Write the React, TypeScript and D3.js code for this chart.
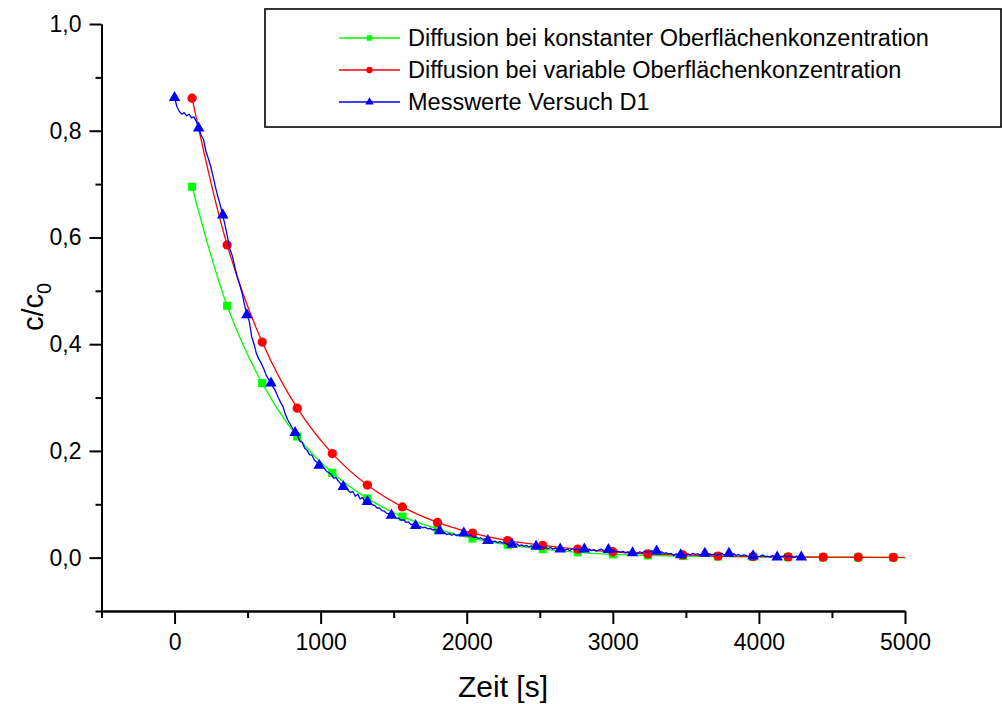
import React, { useEffect, useRef } from "react";
import * as d3 from "d3";

// Model curves: time grid [s] and relative concentration c/c0
const modelTime = [120, 360, 600, 840, 1080, 1320, 1560, 1800, 2040, 2280, 2520, 2760, 3000, 3240, 3480, 3720, 3960, 4200, 4440, 4680, 4920, 5000];
const constSurface = [0.695, 0.472, 0.327, 0.227, 0.159, 0.111, 0.077, 0.054, 0.036, 0.024, 0.016, 0.010, 0.006, 0.004, 0.003, 0.002, 0.0013, 0.0009, 0.0006, 0.0004, 0.0003, 0.0002];
const varSurface = [0.861, 0.586, 0.404, 0.280, 0.195, 0.136, 0.095, 0.066, 0.046, 0.032, 0.023, 0.016, 0.011, 0.007, 0.005, 0.003, 0.002, 0.0014, 0.001, 0.0007, 0.0005, 0.0004];
const MODEL_MARKER_STEP = 240; // markers on the computed curves every 240 s

// Measurement D1, sampled every 16.5 s starting at t = 0
const SAMPLE_STEP = 16.5;
const MEAS_MARKER_EVERY = 10;
const measured = [
  0.862, 0.845, 0.836, 0.831, 0.834, 0.828, 0.831, 0.824, 0.826, 0.818, 0.805,
  0.792, 0.784, 0.762, 0.748, 0.733, 0.714, 0.694, 0.676, 0.660, 0.642,
  0.622, 0.600, 0.578, 0.565, 0.545, 0.526, 0.512, 0.496, 0.474, 0.455,
  0.443, 0.414, 0.400, 0.382, 0.372, 0.364, 0.354, 0.342, 0.334, 0.327,
  0.319, 0.311, 0.300, 0.291, 0.283, 0.268, 0.258, 0.250, 0.242, 0.234,
  0.229, 0.218, 0.216, 0.205, 0.201, 0.193, 0.192, 0.183, 0.179, 0.173,
  0.170, 0.168, 0.162, 0.159, 0.156, 0.149, 0.150, 0.143, 0.138, 0.133,
  0.131, 0.126, 0.122, 0.124, 0.115, 0.119, 0.110, 0.113, 0.104, 0.105,
  0.102, 0.099, 0.098, 0.093, 0.093, 0.088, 0.087, 0.083, 0.082, 0.079,
  0.078, 0.074, 0.074, 0.070, 0.071, 0.066, 0.067, 0.062, 0.063, 0.060,
  0.059, 0.058, 0.056, 0.057, 0.054, 0.055, 0.052, 0.053, 0.051, 0.050,
  0.046, 0.047, 0.043, 0.045, 0.042, 0.044, 0.041, 0.043, 0.044, 0.046,
  0.043, 0.041, 0.042, 0.038, 0.039, 0.036, 0.037, 0.034, 0.035, 0.032,
  0.033, 0.030, 0.031, 0.028, 0.030, 0.027, 0.028, 0.025, 0.027, 0.025,
  0.024, 0.026, 0.022, 0.024, 0.021, 0.023, 0.020, 0.022, 0.019, 0.021,
  0.020, 0.021, 0.018, 0.019, 0.017, 0.019, 0.016, 0.018, 0.015, 0.016,
  0.017, 0.014, 0.016, 0.013, 0.017, 0.015, 0.016, 0.014, 0.017, 0.016,
  0.014, 0.016, 0.013, 0.015, 0.012, 0.014, 0.016, 0.013, 0.014, 0.015,
  0.013, 0.014, 0.011, 0.012, 0.010, 0.012, 0.009, 0.011, 0.010, 0.009,
  0.010, 0.008, 0.011, 0.009, 0.012, 0.010, 0.011, 0.013, 0.010, 0.012,
  0.010, 0.011, 0.008, 0.009, 0.007, 0.008, 0.004, 0.007, 0.006, 0.005,
  0.006, 0.004, 0.007, 0.005, 0.008, 0.006, 0.007, 0.005, 0.007, 0.008,
  0.006, 0.007, 0.005, 0.007, 0.004, 0.006, 0.008, 0.005, 0.007, 0.008,
  0.006, 0.007, 0.004, 0.006, 0.003, 0.005, 0.004, 0.002, 0.004, 0.003,
  0.004, 0.002, 0.003, 0.005, 0.002, 0.003, 0.001, 0.004, 0.002, 0.001,
  0.003, 0.002, 0.004, 0.001, 0.003, 0.002, 0.000, 0.003, 0.002, 0.001,
];

const xMajorTicks = [0, 1000, 2000, 3000, 4000, 5000];
const xMinorTicks = [-500, 500, 1500, 2500, 3500, 4500];
const yMajorTicks = [0, 0.2, 0.4, 0.6, 0.8, 1.0];
const yMinorTicks = [-0.1, 0.1, 0.3, 0.5, 0.7, 0.9];

const legendLabels = [
  "Diffusion bei konstanter Oberflächenkonzentration",
  "Diffusion bei variable Oberflächenkonzentration",
  "Messwerte Versuch D1",
];

const GREEN = "#00ff00";
const RED = "#ff0000";
const BLUE = "#0000ff";
const FONT = "'Liberation Sans', Arial, Helvetica, sans-serif";

const W = 1002;
const H = 704;

export default function App() {
  const xAxisRef = useRef<SVGGElement>(null);
  const yAxisRef = useRef<SVGGElement>(null);

  const x = d3.scaleLinear().domain([-500, 5000]).range([101.5, 905]);
  const y = d3.scaleLinear().domain([-0.1, 1.0]).range([611, 24]);

  const deLocale = d3.formatLocale({ decimal: ",", thousands: ".", grouping: [3], currency: ["", " €"] });
  const yFmt = deLocale.format(".1f");

  useEffect(() => {
    const gx = d3.select(xAxisRef.current);
    gx.selectAll("*").remove();
    gx.append("g").call(
      d3.axisBottom(x).tickValues(xMinorTicks).tickSize(7).tickSizeOuter(0).tickFormat(() => "")
    );
    gx.append("g").call(
      d3.axisBottom(x).tickValues(xMajorTicks).tickSize(13).tickSizeOuter(0).tickPadding(10).tickFormat(d3.format("d"))
    );
    gx.selectAll("path.domain").attr("stroke", "#000").attr("stroke-width", 2);
    gx.selectAll(".tick line").attr("stroke", "#000").attr("stroke-width", 2);
    gx.selectAll(".tick text")
      .attr("font-family", FONT)
      .attr("font-size", 23)
      .attr("fill", "#000");

    const gy = d3.select(yAxisRef.current);
    gy.selectAll("*").remove();
    gy.append("g").call(
      d3.axisLeft(y).tickValues(yMinorTicks).tickSize(6).tickSizeOuter(0).tickFormat(() => "")
    );
    gy.append("g").call(
      d3.axisLeft(y).tickValues(yMajorTicks).tickSize(12).tickSizeOuter(0).tickPadding(8).tickFormat((d) => yFmt(d as number))
    );
    gy.selectAll("path.domain").attr("stroke", "#000").attr("stroke-width", 2);
    gy.selectAll(".tick line").attr("stroke", "#000").attr("stroke-width", 2);
    gy.selectAll(".tick text")
      .attr("font-family", FONT)
      .attr("font-size", 23)
      .attr("fill", "#000");
  }, []);

  const greenPts = modelTime.map((t, i) => ({ t, v: constSurface[i] }));
  const redPts = modelTime.map((t, i) => ({ t, v: varSurface[i] }));
  const bluePts = measured.map((v, i) => ({ t: i * SAMPLE_STEP, v }));

  const smooth = d3
    .line<{ t: number; v: number }>()
    .x((d) => x(d.t))
    .y((d) => y(d.v))
    .curve(d3.curveCatmullRom.alpha(0.5));
  const raw = d3
    .line<{ t: number; v: number }>()
    .x((d) => x(d.t))
    .y((d) => y(d.v));

  const isModelMarker = (t: number) => (t - modelTime[0]) % MODEL_MARKER_STEP === 0;
  const greenMarks = greenPts.filter((d) => isModelMarker(d.t));
  const redMarks = redPts.filter((d) => isModelMarker(d.t));
  const blueMarks = bluePts.filter((_, i) => i % MEAS_MARKER_EVERY === 0);

  const square = d3.symbol().type(d3.symbolSquare).size(66)() as string;
  const circle = d3.symbol().type(d3.symbolCircle).size(68)() as string;
  const triangle = d3.symbol().type(d3.symbolTriangle).size(58)() as string;
  const squareSm = d3.symbol().type(d3.symbolSquare).size(30)() as string;
  const circleSm = d3.symbol().type(d3.symbolCircle).size(32)() as string;
  const triangleSm = d3.symbol().type(d3.symbolTriangle).size(30)() as string;

  const legendRows = [
    { label: legendLabels[0], color: GREEN, mark: squareSm, y: 38 },
    { label: legendLabels[1], color: RED, mark: circleSm, y: 70 },
    { label: legendLabels[2], color: BLUE, mark: triangleSm, y: 102 },
  ];

  return (
    <div style={{ position: "fixed", left: 0, top: 0, width: W, height: H, background: "#fff" }}>
      <svg width={W} height={H} viewBox={`0 0 ${W} ${H}`} style={{ display: "block" }}>
        <rect x={0} y={0} width={W} height={H} fill="#fff" />

        {/* model with constant surface concentration */}
        <path d={smooth(greenPts) ?? ""} fill="none" stroke={GREEN} strokeWidth={1.3} />
        {greenMarks.map((d, i) => (
          <path key={`g${i}`} d={square} transform={`translate(${x(d.t)},${y(d.v)})`} fill={GREEN} />
        ))}

        {/* model with variable surface concentration */}
        <path d={smooth(redPts) ?? ""} fill="none" stroke={RED} strokeWidth={1.3} />
        {redMarks.map((d, i) => (
          <path key={`r${i}`} d={circle} transform={`translate(${x(d.t)},${y(d.v)})`} fill={RED} />
        ))}

        {/* measured values */}
        <path d={raw(bluePts) ?? ""} fill="none" stroke={BLUE} strokeWidth={1.3} strokeLinejoin="round" />
        {blueMarks.map((d, i) => (
          <path key={`b${i}`} d={triangle} transform={`translate(${x(d.t)},${y(d.v)})`} fill={BLUE} />
        ))}

        <g ref={xAxisRef} transform={`translate(0,${y(-0.1)})`} />
        <g ref={yAxisRef} transform={`translate(${x(-500)},0)`} />

        {/* axis titles */}
        <text x={503} y={697} textAnchor="middle" fontFamily={FONT} fontSize={30} fill="#000">
          Zeit [s]
        </text>
        <text transform="translate(43,307) rotate(-90)" textAnchor="middle" fontFamily={FONT} fontSize={29} fill="#000">
          c/c<tspan fontSize={20} dy={8}>0</tspan>
        </text>

        {/* legend */}
        <rect x={265} y={9} width={736} height={118} fill="#fff" stroke="#000" strokeWidth={1.6} />
        {legendRows.map((r, i) => (
          <g key={`l${i}`}>
            <line x1={339} x2={400} y1={r.y} y2={r.y} stroke={r.color} strokeWidth={1.3} />
            <path d={r.mark} transform={`translate(369.5,${r.y})`} fill={r.color} />
            <text x={408} y={r.y} dy="0.36em" fontFamily={FONT} fontSize={23.5} fill="#000">
              {r.label}
            </text>
          </g>
        ))}
      </svg>
    </div>
  );
}
